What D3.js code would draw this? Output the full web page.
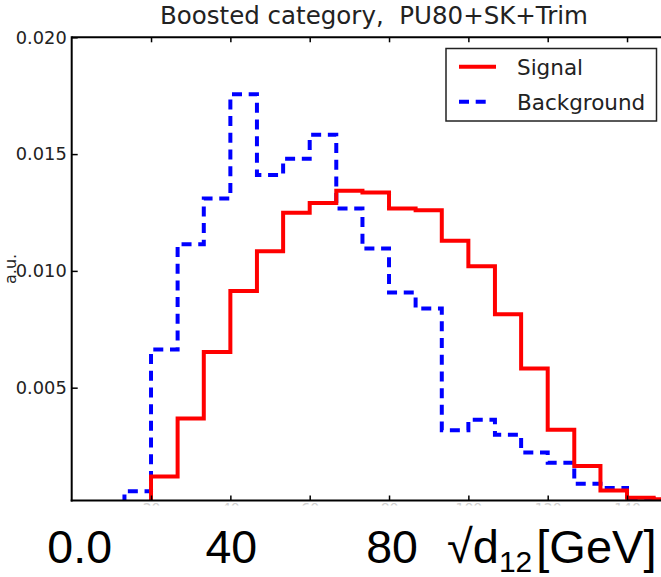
<!DOCTYPE html>
<html>
<head>
<meta charset="utf-8">
<script src="https://cdn.jsdelivr.net/npm/d3@7/dist/d3.min.js"></script>
<style>
  html, body { margin: 0; padding: 0; background: #fff; }
  svg { display: block; }
</style>
</head>
<body>
<svg id="chart" width="661" height="577"></svg>
<script>
// ---- data ----
const binEdges = [13.3, 20, 26.7, 33.3, 40, 46.7, 53.3, 60, 66.7, 73.3, 80, 86.7, 93.3, 100, 106.7, 113.3, 120, 126.7, 133.3, 140, 146.7, 153.3];
const signalValues = [0, 0.00120, 0.00368, 0.00653, 0.00914, 0.01084, 0.01249, 0.01291, 0.01343, 0.01336, 0.01267, 0.01260, 0.01129, 0.01020, 0.00814, 0.00582, 0.00320, 0.00165, 0.00060, 0.00029, 0.00022];
const backgroundValues = [0.00057, 0.00663, 0.01114, 0.01310, 0.01756, 0.01410, 0.01480, 0.01583, 0.01267, 0.01096, 0.00907, 0.00839, 0.00318, 0.00363, 0.00299, 0.00222, 0.00179, 0.00089, 0.00070, 0.00025, 0.00012];
const seriesNames = ["Signal", "Background"];
const yTickValues = [0.005, 0.010, 0.015, 0.020];
const xTickValues = [20, 40, 60, 80, 100, 120, 140];
const bottomLabels = ["0.0", "40", "80"];
const bottomLabelValues = [0, 40, 80];
const titleText = "Boosted category,  PU80+SK+Trim";
const yLabelText = "a.u.";

// ---- layout ----
const svg = d3.select("#chart");
const pL = 71.7, pT = 37.3, pB = 500.5, pR = 666.7;
const x = d3.scaleLinear().domain([0, 150]).range([pL, pR]);
const y = d3.scaleLinear().domain([0.00017, 0.020]).range([pB, pT]);
const defs = svg.append("defs");
defs.append("clipPath").attr("id", "plotclip")
  .append("rect").attr("x", pL).attr("y", pT).attr("width", pR - pL).attr("height", pB - pT);
defs.append("clipPath").attr("id", "faintclip")
  .append("rect").attr("x", 0).attr("y", pB + 2).attr("width", 661).attr("height", 3);

// step path builder
function stepPoints(vals) {
  const pts = [[binEdges[0], 0]];
  vals.forEach((v, i) => { pts.push([binEdges[i], v]); pts.push([binEdges[i + 1], v]); });
  pts.push([binEdges[vals.length], 0]);
  return pts;
}
const line = d3.line().x(d => x(d[0])).y(d => y(d[1]));

const g = svg.append("g").attr("clip-path", "url(#plotclip)");
g.append("path").attr("d", line(stepPoints(backgroundValues)))
  .attr("fill", "none").attr("stroke", "#0000ff").attr("stroke-width", 4)
  .attr("stroke-dasharray", "10,6.7");
g.append("path").attr("d", line(stepPoints(signalValues)))
  .attr("fill", "none").attr("stroke", "#ff0000").attr("stroke-width", 4);

// axes
const tickFont = "'DejaVu Sans', sans-serif";
const yAxis = d3.axisLeft(y).tickValues(yTickValues).tickFormat(d3.format(".3f")).tickSizeInner(-6).tickSizeOuter(0).tickPadding(5);
const ya = svg.append("g").attr("transform", `translate(${pL},0)`).call(yAxis);
ya.select(".domain").remove();
ya.selectAll("line").attr("stroke", "#000").attr("stroke-width", 1.5);
ya.selectAll("text").attr("font-family", tickFont).attr("font-size", 17.8).attr("fill", "#222");

// faint, mostly hidden x tick labels (only their tops show under the axis)
const faint = svg.append("g").attr("clip-path", "url(#faintclip)");
const xAxisB = d3.axisBottom(x).tickValues(xTickValues).tickSizeInner(-5).tickSizeOuter(0).tickPadding(3).tickFormat(d3.format("d"));
const xb = faint.append("g").attr("transform", `translate(0,${pB})`).call(xAxisB);
xb.select(".domain").remove();
xb.selectAll("line").remove();
xb.selectAll("text").attr("font-family", tickFont).attr("font-size", 14).attr("fill", "#d0d0d0");
const xb2 = svg.append("g").attr("transform", `translate(0,${pB})`).call(xAxisB.tickFormat(""));
xb2.select(".domain").remove();
xb2.selectAll("line").attr("stroke", "#000").attr("stroke-width", 1.5);

const xAxisT = d3.axisTop(x).tickValues(xTickValues).tickSizeInner(-5).tickSizeOuter(0).tickFormat("");
const xt = svg.append("g").attr("transform", `translate(0,${pT})`).call(xAxisT);
xt.select(".domain").remove();
xt.selectAll("line").attr("stroke", "#000").attr("stroke-width", 1.5);

// spines
const spine = svg.append("g").attr("stroke", "#000").attr("stroke-width", 2).attr("fill", "none");
spine.append("line").attr("x1", pL).attr("x2", pL).attr("y1", pT - 1).attr("y2", pB + 1);
spine.append("line").attr("x1", pL).attr("x2", 661).attr("y1", pT).attr("y2", pT);
spine.append("line").attr("x1", pL - 1).attr("x2", 661).attr("y1", pB).attr("y2", pB);

// title
svg.append("text").attr("x", 374).attr("y", 24).attr("text-anchor", "middle")
  .attr("font-family", tickFont).attr("font-size", 24.5).attr("fill", "#222")
  .style("white-space", "pre").text(titleText);

// y label
svg.append("text").attr("transform", `translate(16,${(pT + pB) / 2}) rotate(-90)`)
  .attr("text-anchor", "middle").attr("font-family", tickFont).attr("font-size", 16).attr("fill", "#222")
  .text(yLabelText);

// legend
const lg = svg.append("g");
lg.append("rect").attr("x", 446).attr("y", 48.5).attr("width", 210.5).attr("height", 72.5)
  .attr("fill", "#fff").attr("stroke", "#222").attr("stroke-width", 1.5);
const legColors = ["#ff0000", "#0000ff"];
const legDash = [null, "10,6.7"];
const legY = [66.7, 101.7];
seriesNames.forEach((n, i) => {
  lg.append("line").attr("x1", 459).attr("x2", i === 0 ? 496 : 489).attr("y1", legY[i]).attr("y2", legY[i])
    .attr("stroke", legColors[i]).attr("stroke-width", 4).attr("stroke-dasharray", legDash[i]);
  lg.append("text").attr("x", 517).attr("y", legY[i] + 8.3).attr("font-family", tickFont)
    .attr("font-size", 21.5).attr("fill", "#222").text(n);
});

// big overlaid bottom labels
const bigFont = "'Liberation Sans', Arial, sans-serif";
const bigOffsets = [8, 1, 3];
bottomLabels.forEach((t, i) => {
  svg.append("text").attr("x", x(bottomLabelValues[i]) + bigOffsets[i]).attr("y", 563)
    .attr("text-anchor", "middle").attr("font-family", bigFont).attr("font-size", 46.5).attr("fill", "#000").text(t);
});
const at = svg.append("text").attr("x", 447).attr("y", 563).attr("font-family", bigFont)
  .attr("font-size", 47).attr("fill", "#000");
at.append("tspan").text("\u221Ad");
at.append("tspan").attr("font-size", 30).attr("dy", 9).text("12");
at.append("tspan").attr("dy", -9).attr("dx", 4).text("[GeV]");
</script>
</body>
</html>
